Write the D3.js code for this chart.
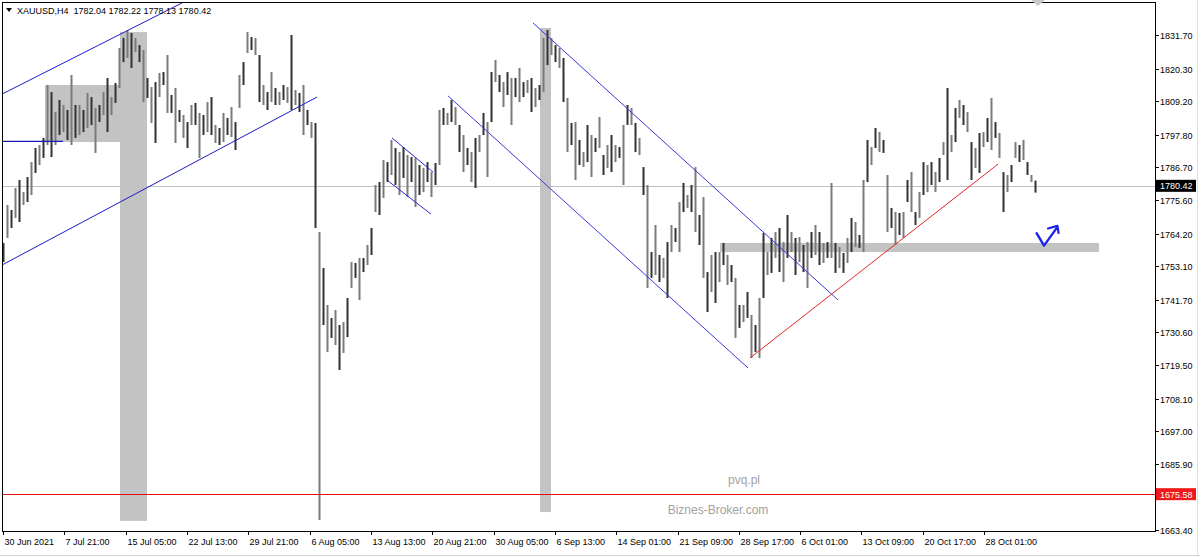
<!DOCTYPE html>
<html><head><meta charset="utf-8">
<script src="https://cdn.jsdelivr.net/npm/d3@7/dist/d3.min.js"></script>
<style>
html,body{margin:0;padding:0;background:#fff;}
svg{display:block;}
text{font-family:"Liberation Sans",Arial,sans-serif;}
</style></head>
<body>
<script>
// ---------- DATA ----------
const symbol = "XAUUSD,H4";
const lastOHLC = [1782.04, 1782.22, 1778.13, 1780.42];
const highs = [1761.0,1773.9,1772.2,1779.7,1782.4,1778.3,1783.4,1788.5,1793.3,1794.3,1796.7,1814.7,1812.3,1805.5,1809.6,1807.9,1806.2,1818.1,1807.9,1807.9,
1806.2,1812.0,1810.6,1806.9,1807.9,1812.3,1817.1,1810.6,1815.4,1827.3,1830.7,1833.4,1832.4,1830.7,1828.3,1826.6,1817.1,1814.0,1815.7,1818.8,
1819.1,1824.9,1811.3,1813.7,1806.2,1804.5,1802.1,1807.9,1808.6,1805.2,1804.5,1808.9,1810.6,1801.1,1800.1,1805.2,1803.5,1807.2,1802.1,1818.1,
1822.5,1832.7,1831.0,1830.7,1824.9,1814.7,1812.3,1819.1,1813.7,1812.3,1814.7,1814.0,1831.7,1813.0,1812.0,1814.7,1806.2,1802.1,1801.8,1764.7,
1752.5,1739.9,1735.5,1738.2,1733.1,1734.1,1742.3,1754.5,1754.2,1755.9,1755.9,1760.3,1766.1,1780.7,1781.7,1789.2,1788.5,1796.0,1793.3,1791.9,
1793.6,1790.9,1790.2,1789.9,1787.5,1786.5,1788.5,1785.1,1788.2,1806.2,1806.9,1805.2,1809.6,1807.2,1801.1,1797.7,1793.3,1791.9,1796.7,1797.7,
1805.2,1802.1,1819.1,1823.2,1818.1,1815.7,1819.1,1817.1,1817.1,1820.5,1815.7,1816.4,1817.1,1813.7,1814.7,1830.7,1833.4,1830.7,1828.3,1827.3,
1823.9,1810.3,1801.8,1802.1,1796.0,1791.9,1801.1,1797.7,1796.7,1803.8,1790.9,1794.3,1797.7,1794.3,1793.6,1801.1,1807.9,1806.9,1801.8,1796.7,
1786.8,1780.7,1757.9,1767.1,1756.9,1755.9,1761.3,1767.1,1766.1,1774.9,1781.4,1777.3,1780.7,1786.8,1770.5,1776.6,1751.1,1756.9,1757.9,1757.9,
1761.0,1756.9,1753.5,1749.1,1739.9,1739.9,1744.3,1736.5,1733.1,1742.3,1764.4,1757.9,1762.7,1764.7,1766.1,1761.3,1770.5,1764.7,1762.7,1763.0,
1760.3,1761.3,1764.7,1767.1,1764.7,1761.0,1761.3,1781.4,1761.0,1759.6,1757.6,1762.7,1769.5,1768.1,1763.7,1782.4,1796.0,1793.6,1800.1,1798.7,
1796.0,1784.1,1772.9,1771.5,1771.2,1771.5,1782.4,1785.1,1771.5,1778.3,1788.5,1787.5,1788.5,1785.1,1789.9,1795.3,1813.7,1797.7,1806.9,1809.6,
1807.9,1805.5,1795.3,1793.3,1798.4,1798.7,1803.5,1810.3,1802.1,1798.4,1785.1,1784.1,1787.5,1795.3,1794.3,1796.0,1788.5,1784.1,1782.2];
const lows = [1754.5,1762.7,1766.1,1769.5,1768.1,1773.9,1774.9,1777.3,1784.8,1787.5,1789.9,1794.3,1790.2,1794.3,1797.7,1798.7,1796.0,1794.3,1796.7,1797.7,
1798.7,1800.1,1801.1,1791.6,1802.1,1804.5,1798.7,1804.5,1808.6,1813.7,1822.5,1823.9,1820.5,1825.9,1822.5,1808.9,1810.3,1801.8,1795.0,1810.6,
1814.7,1805.2,1805.2,1795.0,1802.1,1796.7,1793.3,1801.1,1801.1,1789.9,1797.7,1798.7,1797.7,1795.0,1794.3,1795.3,1797.7,1797.0,1792.6,1806.9,
1814.7,1825.6,1826.6,1824.9,1808.9,1807.9,1806.2,1808.9,1807.9,1807.9,1809.6,1808.6,1806.2,1807.9,1805.5,1797.7,1801.1,1796.7,1766.1,1666.8,
1733.1,1723.9,1728.7,1726.3,1717.8,1723.6,1729.0,1745.7,1749.1,1741.6,1751.1,1753.5,1756.9,1771.5,1770.5,1776.3,1781.7,1784.1,1780.7,1777.3,
1783.1,1776.6,1781.7,1773.2,1777.3,1778.3,1781.7,1776.6,1780.7,1787.5,1801.1,1801.1,1802.1,1801.1,1791.9,1785.1,1787.5,1781.7,1779.7,1791.9,
1797.7,1783.4,1802.1,1815.7,1812.3,1807.2,1811.3,1801.1,1810.6,1808.9,1810.6,1812.0,1805.5,1807.2,1809.6,1812.3,1821.5,1824.9,1822.5,1820.5,
1808.9,1791.9,1794.3,1782.4,1787.5,1786.8,1788.5,1783.4,1791.9,1793.3,1784.1,1786.5,1785.1,1788.5,1789.9,1780.7,1801.1,1801.1,1791.9,1790.9,
1777.3,1745.7,1749.1,1750.1,1747.7,1749.1,1742.3,1757.9,1761.3,1757.9,1771.5,1772.9,1771.5,1764.7,1760.3,1749.1,1737.5,1744.3,1740.6,1747.7,
1753.5,1746.7,1747.7,1728.7,1732.1,1734.1,1735.5,1721.9,1723.9,1721.9,1742.3,1750.1,1750.8,1755.9,1751.1,1747.7,1755.9,1757.9,1750.1,1754.5,
1751.1,1745.7,1755.9,1756.9,1753.5,1754.2,1755.9,1755.9,1750.8,1752.5,1750.8,1754.2,1757.9,1759.6,1759.3,1757.9,1781.7,1787.5,1793.3,1791.9,
1791.6,1764.7,1766.1,1760.3,1763.7,1762.7,1774.9,1771.5,1767.1,1769.5,1777.3,1778.3,1780.7,1778.3,1781.7,1790.9,1782.4,1791.9,1795.3,1803.5,
1801.1,1798.7,1782.4,1786.5,1784.8,1793.6,1795.3,1792.6,1796.7,1789.9,1771.5,1778.3,1781.7,1789.9,1788.5,1789.2,1784.1,1781.7,1778.1];

const priceTicks = [1831.70,1820.30,1809.20,1797.80,1786.70,1775.60,1764.20,1753.10,1741.70,1730.60,1719.50,1708.10,1697.00,1685.90,1674.80,1663.40];
const timeLabels = ["30 Jun 2021","7 Jul 21:00","15 Jul 05:00","22 Jul 13:00","29 Jul 21:00","6 Aug 05:00","13 Aug 13:00","20 Aug 21:00","30 Aug 05:00","6 Sep 13:00","14 Sep 01:00","21 Sep 09:00","28 Sep 17:00","6 Oct 01:00","13 Oct 09:00","20 Oct 17:00","28 Oct 01:00"];
const barsPerLabel = 15.33;

// drawn objects in (bar index, price)
const channelLines = [
  {a:[-0.25,1811.6], b:[44.75,1842.6], c:"#1c1cc8"},
  {a:[-0.25,1753.5], b:[78.5,1810.6], c:"#1c1cc8"},
  {a:[97.25,1796.7], b:[107.5,1785.1], c:"#2a2ad0"},
  {a:[96.25,1782.1], b:[107,1770.8], c:"#2a2ad0"},
  {a:[132.5,1835.8], b:[208.75,1741.6], c:"#3a3ad8"},
  {a:[111.25,1811.0], b:[186.25,1718.5], c:"#3a3ad8"}
];
const levelLine = {a:-0.25, b:15, price:1795.5};
const redTrend = {a:[186.75,1721.9], b:[248.75,1787.8]};
const redLevel = 1675.58;
const rects = [
  {x0:10.5, x1:35.75, p0:1814.7, p1:1795.3},
  {x0:29.25, x1:36, p0:1832.7, p1:1666.5},
  {x0:134.25, x1:137, p0:1834.1, p1:1669.5},
  {x0:179.25, x1:274, p0:1761.0, p1:1757.9}
];
const checkMark = [[258.4,1764.3],[260.25,1760.1],[263.5,1766.2]];
const arrowHead = [[261.25,1765.9],[263.6,1766.8],[263.9,1764.4]];

// ---------- CHART ----------
const W = 1200, H = 557;
const L = 2, R = 1155, T = 2, B = 531;
const svg = d3.select("body").append("svg").attr("width", W).attr("height", H);

const x = d3.scaleLinear().domain([0, highs.length - 1]).range([3, 3 + 4 * (highs.length - 1)]);
const y = d3.scaleLinear().domain([1663.4, 1831.7]).range([530, 35]);

svg.append("defs").append("clipPath").attr("id", "clip")
  .append("rect").attr("x", L).attr("y", T).attr("width", R - L).attr("height", B - T);

const plot = svg.append("g").attr("clip-path", "url(#clip)");

// rectangles (background objects)
plot.selectAll("rect.obj").data(rects).join("rect")
  .attr("class", "obj")
  .attr("x", d => x(d.x0)).attr("width", d => x(d.x1) - x(d.x0))
  .attr("y", d => y(d.p0)).attr("height", d => y(d.p1) - y(d.p0))
  .attr("fill", "#c3c3c3");

// current price line
plot.append("line").attr("x1", L).attr("x2", R)
  .attr("y1", Math.round(y(lastOHLC[3])) + 0.5).attr("y2", Math.round(y(lastOHLC[3])) + 0.5)
  .attr("stroke", "#c0c0c0").attr("stroke-width", 1);

// bars
plot.selectAll("line.bar").data(highs.map((h, i) => ({i, h, l: lows[i]}))).join("line")
  .attr("class", "bar")
  .attr("x1", d => x(d.i) + 0.5).attr("x2", d => x(d.i) + 0.5)
  .attr("y1", d => y(d.h)).attr("y2", d => y(d.l))
  .attr("stroke", d => d.i % 2 ? "#7a7a7a" : "#333")
  .attr("stroke-width", 2);

// channels
plot.selectAll("line.ch").data(channelLines).join("line")
  .attr("class", "ch")
  .attr("x1", d => x(d.a[0])).attr("y1", d => y(d.a[1]))
  .attr("x2", d => x(d.b[0])).attr("y2", d => y(d.b[1]))
  .attr("stroke", d => d.c).attr("stroke-width", 1);

plot.append("line")
  .attr("x1", x(levelLine.a)).attr("x2", x(levelLine.b))
  .attr("y1", y(levelLine.price)).attr("y2", y(levelLine.price))
  .attr("stroke", "#1818b8").attr("stroke-width", 1.3);

plot.append("line")
  .attr("x1", x(redTrend.a[0])).attr("y1", y(redTrend.a[1]))
  .attr("x2", x(redTrend.b[0])).attr("y2", y(redTrend.b[1]))
  .attr("stroke", "#e0282a").attr("stroke-width", 1);

plot.append("line").attr("x1", L).attr("x2", R)
  .attr("y1", Math.round(y(redLevel)) + 0.5).attr("y2", Math.round(y(redLevel)) + 0.5)
  .attr("stroke", "#e01010").attr("stroke-width", 1);

// hand-drawn check mark
const ln = d3.line().x(d => x(d[0])).y(d => y(d[1]));
plot.append("path").attr("d", ln(checkMark)).attr("fill", "none")
  .attr("stroke", "#1a22ee").attr("stroke-width", 2.4).attr("stroke-linecap", "round").attr("stroke-linejoin", "round");
plot.append("path").attr("d", ln(arrowHead)).attr("fill", "none")
  .attr("stroke", "#1a22ee").attr("stroke-width", 2.2).attr("stroke-linecap", "round").attr("stroke-linejoin", "round");

// watermarks
svg.append("text").attr("x", 744).attr("y", 484).attr("text-anchor", "middle")
  .attr("font-size", 12).attr("fill", "#a2a2a2").text("pvq.pl");
svg.append("text").attr("x", 718).attr("y", 514).attr("text-anchor", "middle")
  .attr("font-size", 12).attr("fill", "#a2a2a2").text("Biznes-Broker.com");

// frame
svg.append("rect").attr("x", L + 0.5).attr("y", T + 0.5).attr("width", R - L).attr("height", B - T)
  .attr("fill", "none").attr("stroke", "#000").attr("stroke-width", 1);

// shift marker
svg.append("path").attr("d", `M${x(257)},0 L${x(260.5)},0 L${x(258.75)},6 Z`).attr("fill", "#c8c8c8");

// header
svg.append("path").attr("d", "M6,8 L12,8 L9,12 Z").attr("fill", "#000");
svg.append("text").attr("x", 17).attr("y", 14).attr("font-size", 9).attr("fill", "#000")
  .style("white-space", "pre")
  .text(symbol + "  " + lastOHLC.map(v => v.toFixed(2)).join(" "));

// price axis
const pa = svg.append("g");
priceTicks.forEach(p => {
  const yy = Math.round(y(p)) + 0.5;
  pa.append("line").attr("x1", R).attr("x2", R + 4).attr("y1", yy).attr("y2", yy).attr("stroke", "#000");
  pa.append("text").attr("x", R + 5).attr("y", yy + 3.5).attr("font-size", 9).attr("fill", "#000").text(p.toFixed(2));
});
function priceTag(p, bg) {
  const yy = y(p);
  pa.append("rect").attr("x", R + 1).attr("y", yy - 6).attr("width", 40).attr("height", 12).attr("fill", bg);
  pa.append("text").attr("x", R + 5).attr("y", yy + 3.5).attr("font-size", 9).attr("fill", "#fff").text(p.toFixed(2));
}
priceTag(lastOHLC[3], "#000");
priceTag(redLevel, "#f01818");

// time axis
const ta = svg.append("g");
timeLabels.forEach((t, k) => {
  const xx = Math.round(x(k * barsPerLabel)) + 0.5;
  ta.append("line").attr("x1", xx).attr("x2", xx).attr("y1", B).attr("y2", B + 4).attr("stroke", "#000");
  ta.append("text").attr("x", xx + 1).attr("y", 545).attr("font-size", 9).attr("fill", "#000").text(t);
});

// window edges
svg.append("line").attr("x1", 0).attr("x2", W).attr("y1", 555.5).attr("y2", 555.5).attr("stroke", "#d4d4d4");
svg.append("line").attr("x1", 1197.5).attr("x2", 1197.5).attr("y1", 0).attr("y2", H).attr("stroke", "#e0e0e0");
</script>
</body></html>
